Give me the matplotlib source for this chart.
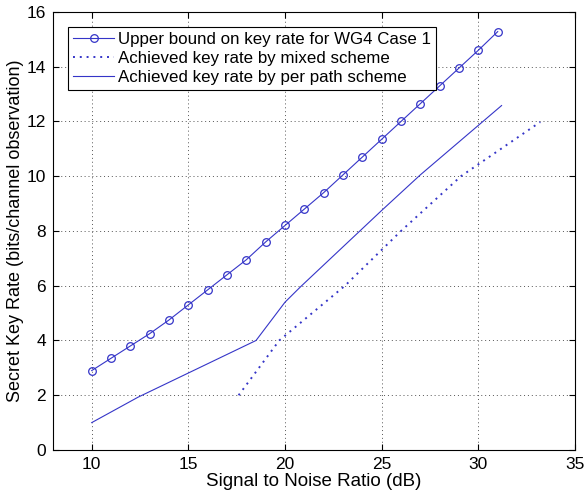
import matplotlib
matplotlib.use('Agg')
import matplotlib.pyplot as plt

plt.rcParams['font.family'] = ['Liberation Sans', 'DejaVu Sans']

# upper bound (WG4 Case 1)
snr_ub = [10, 11, 12, 13, 14, 15, 16, 17, 18, 19, 20, 21, 22, 23, 24, 25, 26, 27, 28, 29, 30, 31]
rate_ub = [2.9, 3.35, 3.8, 4.25, 4.75, 5.3, 5.85, 6.4, 6.95, 7.6, 8.2, 8.8, 9.4, 10.05,
           10.7, 11.35, 12.0, 12.65, 13.3, 13.95, 14.6, 15.28]

# mixed scheme
snr_mixed = [17.6, 19.7, 23.1, 26.0, 29.1, 33.2]
rate_mixed = [2.0, 4.0, 6.0, 8.0, 10.0, 11.98]

# per path scheme
snr_path = [10, 12.4, 18.5, 20, 20.8, 25, 27, 31.2]
rate_path = [1.0, 1.93, 4.0, 5.4, 5.96, 8.75, 10.05, 12.58]

blue = '#3535c8'

fig = plt.figure(figsize=(5.85, 4.96), dpi=100)
ax = fig.add_axes([0.0906, 0.0927, 0.8924, 0.8833])

ax.plot(snr_ub, rate_ub, '-o', color=blue, lw=0.8, markersize=5.5,
        markerfacecolor='none', markeredgewidth=0.9,
        label='Upper bound on key rate for WG4 Case 1')
ax.plot(snr_mixed, rate_mixed, linestyle=(0, (1, 2.5)), color=blue, lw=1.4,
        label='Achieved key rate by mixed scheme')
ax.plot(snr_path, rate_path, '-', color=blue, lw=0.8,
        label='Achieved key rate by per path scheme')

ax.set_xlim(8, 35)
ax.set_ylim(0, 16)
ax.set_xticks([10, 15, 20, 25, 30, 35])
ax.set_yticks(range(0, 17, 2))
ax.grid(True, linestyle=(0, (1, 3)), color='#555555', lw=0.7)
ax.tick_params(direction='in', top=True, right=True, labelsize=12.5, length=4, pad=5)
for s in ax.spines.values():
    s.set_linewidth(0.8)

ax.set_xlabel('Signal to Noise Ratio (dB)', fontsize=13.5, labelpad=1)
ax.set_ylabel('Secret Key Rate (bits/channel observation)', fontsize=13, labelpad=2)

leg = ax.legend(loc='upper left', fontsize=12.2, fancybox=False, edgecolor='black',
                framealpha=1, borderpad=0.3, labelspacing=0.22, handlelength=2.4,
                handletextpad=0.25, borderaxespad=0.9)
leg.get_frame().set_linewidth(0.8)

fig.savefig('out.png', dpi=100)
